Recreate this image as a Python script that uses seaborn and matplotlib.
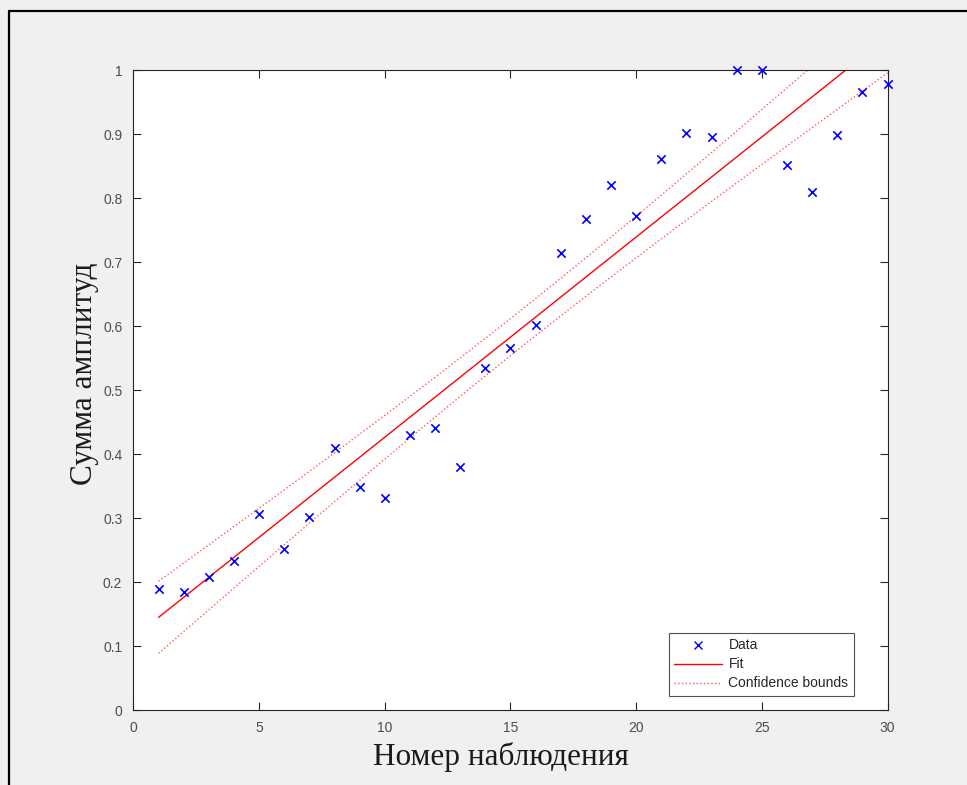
import numpy as np
import pandas as pd
import matplotlib
matplotlib.use('Agg')
import matplotlib.pyplot as plt
import seaborn as sns
from matplotlib.lines import Line2D

# Номер наблюдения и сумма амплитуд
nomer = list(range(1, 31))
summa = [0.189, 0.184, 0.208, 0.233, 0.307, 0.251, 0.302, 0.410, 0.348, 0.332,
         0.429, 0.440, 0.380, 0.535, 0.565, 0.602, 0.714, 0.768, 0.820, 0.772,
         0.861, 0.902, 0.896, 1.000, 1.000, 0.852, 0.809, 0.898, 0.965, 0.978]

x_ticks = [0, 5, 10, 15, 20, 25, 30]
y_ticks = [0, 0.1, 0.2, 0.3, 0.4, 0.5, 0.6, 0.7, 0.8, 0.9, 1]
y_tick_labels = ['0', '0.1', '0.2', '0.3', '0.4', '0.5', '0.6', '0.7', '0.8', '0.9', '1']

df = pd.DataFrame({'x': nomer, 'y': summa})

# ajuste linear + bandas de confiança (t ~ 2.048 para 28 g.l.)
coef = np.polyfit(df['x'], df['y'], 1)
n = len(df)
resid = df['y'] - np.polyval(coef, df['x'])
s = np.sqrt((resid ** 2).sum() / (n - 2))
xm = df['x'].mean()
sxx = ((df['x'] - xm) ** 2).sum()
xx = np.linspace(1, 30, 200)
fit = np.polyval(coef, xx)
half = 2.048 * s * np.sqrt(1 / n + (xx - xm) ** 2 / sxx)
df_fit = pd.DataFrame({'x': xx, 'fit': fit, 'lo': fit - half, 'hi': fit + half})

sns.set_style('white')
plt.rcParams['font.family'] = ['Liberation Sans', 'DejaVu Sans']

fig = plt.figure(figsize=(9.67, 7.85), dpi=100, facecolor='#f0f0f0')
ax = fig.add_axes([0.138, 0.0955, 0.7798, 0.8153])
ax.set_facecolor('white')

cor_ci = '#ff5a5a'
sns.lineplot(data=df_fit, x='x', y='fit', color='#ff0000', linewidth=1.0, ax=ax)
sns.lineplot(data=df_fit, x='x', y='hi', color=cor_ci, linewidth=1.0,
             linestyle=':', ax=ax)
sns.lineplot(data=df_fit, x='x', y='lo', color=cor_ci, linewidth=1.0,
             linestyle=':', ax=ax)
sns.scatterplot(data=df, x='x', y='y', marker='x', color='#0000ff', s=36,
                linewidth=1.2, ax=ax, zorder=5, clip_on=False)

ax.set_xlim(0, 30)
ax.set_ylim(0, 1)
ax.set_xticks(x_ticks)
ax.set_yticks(y_ticks)
ax.set_yticklabels(y_tick_labels)
ax.tick_params(direction='in', length=6, width=0.8, colors='#262626',
               labelcolor='#4d4d4d', labelsize=10, top=True, right=True,
               bottom=True, left=True, pad=8)
for sp in ax.spines.values():
    sp.set_color('#262626')
    sp.set_linewidth(0.8)

ax.set_xlabel('Номер наблюдения', fontsize=22.5, family='Liberation Serif',
              color='#1a1a1a')
ax.set_ylabel('Сумма амплитуд', fontsize=22.5, family='Liberation Serif',
              color='#1a1a1a')
ax.xaxis.label.set_va('center')
ax.yaxis.label.set_va('center')
ax.xaxis.set_label_coords(0.487, -0.073)
ax.yaxis.set_label_coords(-0.0643, 0.525)

handles = [
    Line2D([], [], marker='x', color='#0000ff', linestyle='none', markersize=6),
    Line2D([], [], color='#ff0000', linewidth=1.0),
    Line2D([], [], color=cor_ci, linewidth=1.0, linestyle=':'),
]
leg = ax.legend(handles, ['Data', 'Fit', 'Confidence bounds'], loc='lower right',
                bbox_to_anchor=(0.9556, 0.0219), fontsize=10, frameon=True,
                fancybox=False, handlelength=3.4, borderpad=0.4,
                labelspacing=0.36, handletextpad=0.5, borderaxespad=0)
leg.get_frame().set_edgecolor('#262626')
leg.get_frame().set_linewidth(0.8)

# moldura preta do screenshot
fig.add_artist(Line2D([8.5 / 967, 8.5 / 967], [0, 1 - 11 / 785], color='black',
                      linewidth=1.6, transform=fig.transFigure))
fig.add_artist(Line2D([8.5 / 967, 1], [1 - 11 / 785, 1 - 11 / 785], color='black',
                      linewidth=1.6, transform=fig.transFigure))

fig.savefig('out.png', dpi=100, facecolor=fig.get_facecolor())
